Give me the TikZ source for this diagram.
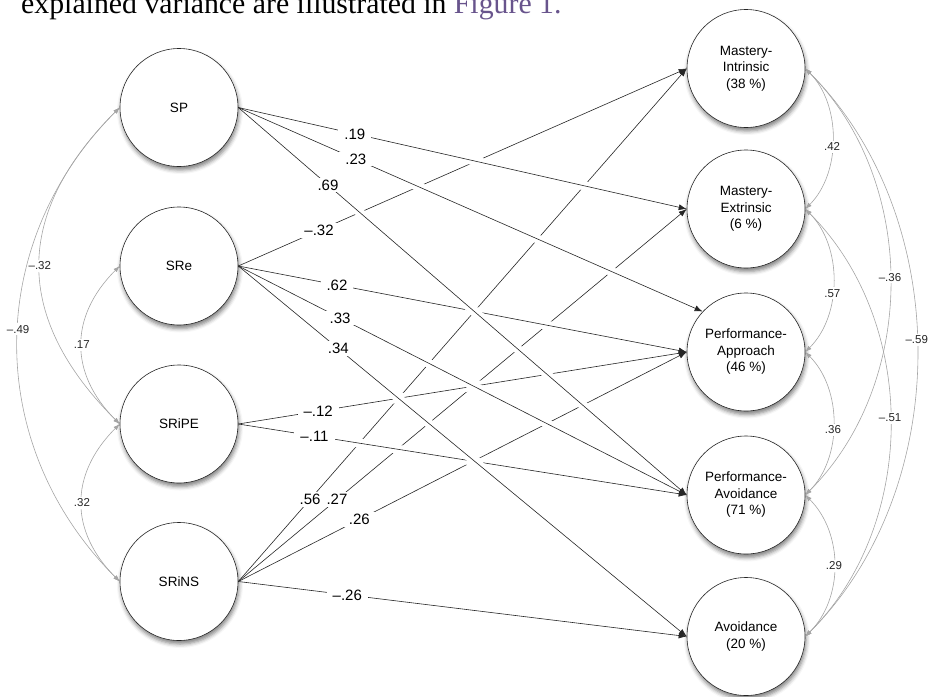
\documentclass[tikz,border=0pt]{standalone}
\usepackage{fontspec}
\setmainfont{Liberation Sans}
\newfontfamily\serifface{Liberation Serif}
\usetikzlibrary{arrows.meta,shadows.blur,calc}
\definecolor{figlink}{RGB}{104,84,140}
\definecolor{covgray}{RGB}{165,165,165}
\tikzstyle{latent} = [circle, draw=black!85, line width=0.6pt, fill=white, minimum size=118pt, inner sep=0pt, align=center, font=\fontsize{13.5}{16.5}\selectfont, blur shadow={shadow xshift=1pt, shadow yshift=-3.5pt, shadow blur radius=4pt, shadow opacity=50}]
\tikzstyle{gapline} = [draw=white, line width=9pt]
\tikzstyle{reg} = [draw=black!85, line width=0.6pt, -{Latex[length=8pt,width=6pt]}]
\tikzstyle{coef} = [fill=white, inner xsep=6pt, inner ysep=2pt, font=\fontsize{15}{18}\selectfont]
\tikzstyle{cov} = [draw=covgray, line width=0.6pt, {Latex[length=6.5pt,width=4.5pt]}-{Latex[length=6.5pt,width=4.5pt]}]
\tikzstyle{covcoef} = [fill=white, inner sep=2pt, text=black!85, font=\fontsize{11.5}{14}\selectfont]

\begin{document}
\begin{tikzpicture}[x=1pt, y=-1pt]
	\useasboundingbox (0,0) rectangle (936,696);
	\node[anchor=base west, inner sep=0pt, font=\serifface\fontsize{29.8}{34}\selectfont] (intro) at (21,13) {explained variance are illustrated in \textcolor{figlink}{Figure 1.}};

	\node[latent] (SP) at (179,107.5) {SP};
	\node[latent] (SRe) at (179,266) {SRe};
	\node[latent] (SRiPE) at (179,424) {SRiPE};
	\node[latent] (SRiNS) at (179,581.5) {SRiNS};

	\node[latent] (MI) at (746,68.5) {Mastery-\\Intrinsic\\(38 \%)};
	\node[latent] (ME) at (746,209) {Mastery-\\Extrinsic\\(6 \%)};
	\node[latent] (PAp) at (746,352) {Performance-\\Approach\\(46 \%)};
	\node[latent] (PAv) at (746,495) {Performance-\\Avoidance\\(71 \%)};
	\node[latent] (Av) at (746,636.5) {Avoidance\\(20 \%)};

	\foreach \from/\to/\where/\coefval in {
			SRiNS.east/MI.west/0.16/.56, SRiNS.east/ME.west/0.22/.27, SRiNS.east/PAp.west/0.27/.26,
			SRe.east/MI.west/0.18/–.32, SRiPE.east/PAp.west/0.178/–.12, SRiNS.east/Av.west/0.243/–.26,
			SP.east/ME.west/0.26/.19, SRe.east/PAp.west/0.22/.62, SRe.east/PAv.west/0.227/.33,
			SRiPE.east/PAv.west/0.17/–.11, SRe.east/Av.west/0.223/.34, SP.east/PAp.137/0.253/.23,
			SP.east/PAv.west/0.2/.69} {
		\draw[gapline] ($(\from)!70pt!(\to)$) -- ($(\to)!35pt!(\from)$);
		\draw[reg] (\from) -- node[coef, pos=\where] {\coefval} (\to);
	}

	\draw[cov] (SP.west) to[out=225, in=135, looseness=1.22] node[covcoef] {–.32} (SRiPE.west);
	\draw[cov] (SP.west) to[out=225, in=135, looseness=1.04] node[covcoef, pos=0.47] {–.49} (SRiNS.west);
	\draw[cov] (SRe.west) to[out=225, in=135, looseness=1.16] node[covcoef] {.17} (SRiPE.west);
	\draw[cov] (SRiPE.west) to[out=225, in=135, looseness=1.16] node[covcoef] {.32} (SRiNS.west);

	\draw[cov] (MI.east) to[out=-45, in=45, looseness=0.93] node[covcoef, pos=0.55] {.42} (ME.east);
	\draw[cov] (ME.east) to[out=-45, in=45, looseness=0.94] node[covcoef, pos=0.58] {.57} (PAp.east);
	\draw[cov] (PAp.east) to[out=-45, in=45, looseness=0.94] node[covcoef, pos=0.54] {.36} (PAv.east);
	\draw[cov] (PAv.east) to[out=-45, in=45, looseness=0.98] node[covcoef] {.29} (Av.east);
	\draw[cov] (MI.east) to[out=-45, in=45, looseness=0.96] node[covcoef, pos=0.49] {–.36} (PAv.east);
	\draw[cov] (ME.east) to[out=-45, in=45, looseness=0.96] node[covcoef, pos=0.49] {–.51} (Av.east);
	\draw[cov] (MI.east) to[out=-45, in=45, looseness=0.95] node[covcoef, pos=0.48] {–.59} (Av.east);
\end{tikzpicture}
\end{document}
